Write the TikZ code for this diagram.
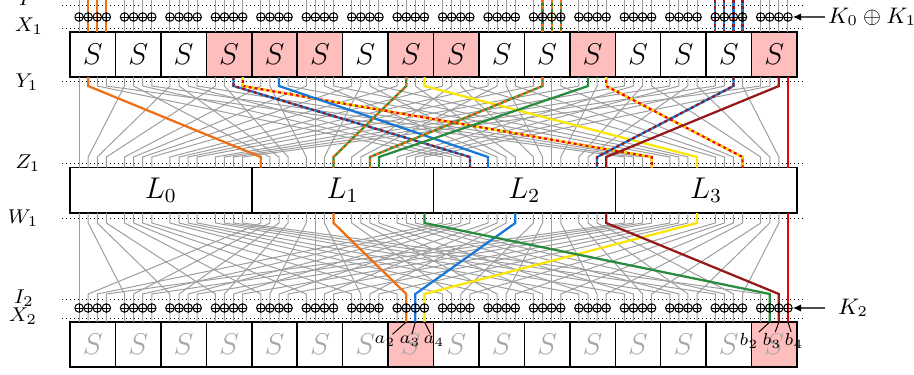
\documentclass[tikz,border=0pt]{standalone}
\usepackage{amsmath}
\usetikzlibrary{calc,arrows.meta}

\definecolor{tOrange}{RGB}{240,110,20}
\definecolor{tBlue}{RGB}{25,120,215}
\definecolor{tGreen}{RGB}{40,140,60}
\definecolor{tYellow}{RGB}{250,230,0}
\definecolor{tDarkred}{RGB}{150,25,25}
\definecolor{tRed}{RGB}{240,0,0}
\definecolor{sPink}{RGB}{255,190,190}

% wire from S-box layer (Y1) through the bit permutation to Z1
\newcommand{\trailA}[2]{(b#1) -- ++(0,9) -- ($(z#2)+(0,-10.5)$) -- (z#2)}
% wire from W1 through the second permutation to I2 and the next S-box
\newcommand{\trailB}[2]{(w#1) -- ++(0,10) -- ($(u#2)+(0,-28)$) -- (u#2)}
% two-coloured trail: base colour, dash colour, path
\newcommand{\pairtrail}[3]{\draw[trail,#1] #3; \draw[trail,#2,altdash] #3;}

\begin{document}
\begin{tikzpicture}[x=0.4pt,y=-0.4pt,
  wire/.style={black!38, line width=0.4pt},
  trail/.style={line width=0.9pt},
  altdash/.style={dash pattern=on 1.2pt off 1.2pt},
  dotrow/.style={black, line width=0.4pt, dash pattern=on 0.4pt off 1.2pt},
  sbox/.style={draw=black, semithick, minimum width=18.18pt, minimum height=18pt, inner sep=0pt, outer sep=0pt, font=\large},
  hot/.style={fill=sPink},
  ghost/.style={text=black!35},
  lbox/.style={draw=black, semithick, minimum width=72.7pt, minimum height=18.2pt, inner sep=0pt, outer sep=0pt, font=\fontsize{11.5}{13}\selectfont},
  xorsym/.style={circle, draw=black, line width=0.4pt, inner sep=0pt, minimum size=3.4pt,
    path picture={\draw[line width=0.4pt] (path picture bounding box.north) -- (path picture bounding box.south)
      (path picture bounding box.west) -- (path picture bounding box.east);}},
  rowlab/.style={inner sep=0pt, font=\fontsize{8.5}{10}\selectfont},
  keylab/.style={inner sep=1pt, font=\small, anchor=west},
  keyarrow/.style={black!70, semithick, -{Latex[black,length=3.4pt,width=3pt]}},
  pinlab/.style={inner sep=0.5pt, font=\scriptsize},
  pinline/.style={black, line width=0.4pt}]
\useasboundingbox (0,0) rectangle (914,374);

% row guides
\foreach \ry in {5,28,81,163,218,299,318}
  \draw[dotrow] (62,\ry) -- (803,\ry);

\node[rowlab] (labP) at (27,-1) {$P$};
\node[rowlab] (labX1) at (29,26) {$X_1$};
\node[rowlab] (labY1) at (27,82) {$Y_1$};
\node[rowlab] (labZ1) at (28,163) {$Z_1$};
\node[rowlab] (labW1) at (23,218) {$W_1$};
\node[rowlab] (labI2) at (24,298) {$I_2$};
\node[rowlab] (labX2) at (23,316) {$X_2$};

% bit positions
\foreach \i in {0,...,63} {
  \pgfmathsetmacro\bitx{70+45.44*int(\i/4)+9.088*(mod(\i,4)+1)}
  \coordinate (p\i) at (\bitx,0);
  \coordinate (t\i) at (\bitx,32);
  \coordinate (b\i) at (\bitx,77);
  \coordinate (z\i) at (\bitx,167.5);
  \coordinate (w\i) at (\bitx,213);
  \coordinate (u\i) at (\bitx,322);
}

% first S-box layer
\foreach \k in {0,1,2,6,9,10,12,13,14}
  \node[sbox] (sa\k) at ({92.72+45.44*\k},54.5) {$S$};
\foreach \k in {3,4,5,7,8,11,15}
  \node[sbox,hot] (sa\k) at ({92.72+45.44*\k},54.5) {$S$};

% linear layers
\node[lbox] (L0) at (160.88,190.25) {$L_0$};
\node[lbox] (L1) at (342.64,190.25) {$L_1$};
\node[lbox] (L2) at (524.40,190.25) {$L_2$};
\node[lbox] (L3) at (706.16,190.25) {$L_3$};

% second S-box layer
\foreach \k in {0,1,2,3,4,5,6,8,9,10,11,12,13,14}
  \node[sbox,ghost] (sb\k) at ({92.72+45.44*\k},344.5) {$S$};
\foreach \k in {7,15}
  \node[sbox,hot,ghost] (sb\k) at ({92.72+45.44*\k},344.5) {$S$};

% wiring
\foreach \i in {0,...,63} {
  \pgfmathtruncatemacro\zj{16*mod(\i,4)+int(\i/4)}
  \pgfmathtruncatemacro\uj{4*mod(\i,16)+int(\i/16)}
  \draw[wire] (p\i) -- (t\i);
  \draw[wire] \trailA{\i}{\zj};
  \draw[wire] \trailB{\i}{\uj};
}

% input trails
\draw[trail,tOrange] (p1) -- (t1) (p2) -- (t2) (p3) -- (t3);
\pairtrail{tGreen}{tOrange}{(p41) -- (t41) (p42) -- (t42) (p43) -- (t43)}
\pairtrail{tBlue}{tDarkred}{(p56) -- (t56) (p57) -- (t57) (p58) -- (t58) (p59) -- (t59)}

% trails Y1 -> Z1
\draw[trail,tOrange] \trailA{1}{16};
\pairtrail{tBlue}{tDarkred}{\trailA{14}{35}}
\pairtrail{tRed}{tYellow}{\trailA{15}{51}}
\draw[trail,tBlue] \trailA{18}{36};
\pairtrail{tGreen}{tOrange}{\trailA{29}{23}}
\draw[trail,tYellow] \trailA{31}{55};
\pairtrail{tGreen}{tOrange}{\trailA{41}{26}}
\draw[trail,tGreen] \trailA{45}{27};
\pairtrail{tRed}{tYellow}{\trailA{47}{59}}
\pairtrail{tBlue}{tDarkred}{\trailA{58}{46}}
\draw[trail,tDarkred] \trailA{62}{47};
\draw[trail,tRed] \trailA{63}{63};

% trails W1 -> I2
\draw[trail,tOrange] \trailB{23}{29};
\draw[trail,tBlue] \trailB{39}{30};
\draw[trail,tYellow] \trailB{55}{31};
\draw[trail,tGreen] \trailB{31}{61};
\draw[trail,tDarkred] \trailB{47}{62};
\draw[trail,tRed] \trailB{63}{63};

% key additions
\foreach \i in {0,...,63} {
  \node[xorsym] (xa\i) at ($(p\i)+(0,17)$) {};
  \node[xorsym] (xb\i) at ($(u\i)+(0,-14)$) {};
}
\node[keylab] (k01) at (825,17) {$K_0\oplus K_1$};
\draw[keyarrow] (k01) -- (xa63);
\node[keylab] (k2) at (835,308) {$K_2$};
\draw[keyarrow, shorten <=4pt] (k2) -- (xb63);

% output bits
\node[pinlab] (a2) at (385,341) {$a_2$};
\node[pinlab] (a3) at (410,341) {$a_3$};
\node[pinlab] (a4) at (434,341) {$a_4$};
\draw[pinline] (u29) -- (a2);
\draw[pinline] (u30) -- (a3);
\draw[pinline] (u31) -- (a4);
\node[pinlab] (b2) at (749,341) {$b_2$};
\node[pinlab] (b3) at (772,341) {$b_3$};
\node[pinlab] (b4) at (794,341) {$b_4$};
\draw[pinline] (u61) -- (b2);
\draw[pinline] (u62) -- (b3);
\draw[pinline] (u63) -- (b4);
\end{tikzpicture}
\end{document}
